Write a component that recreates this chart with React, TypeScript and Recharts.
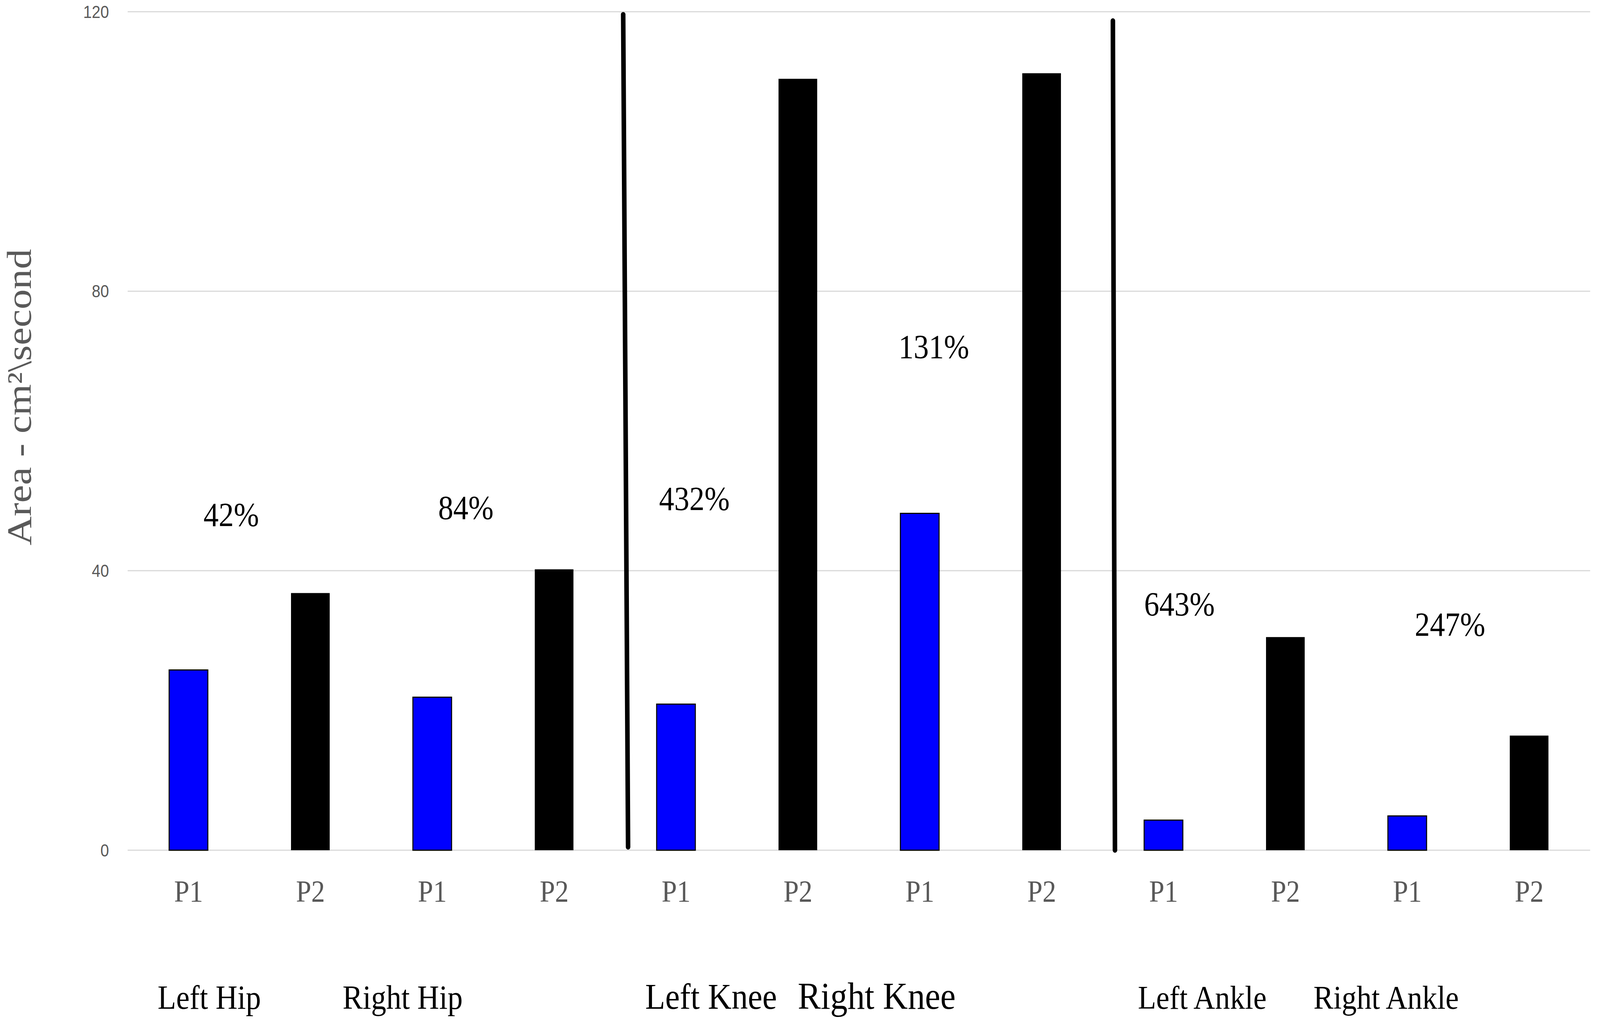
import React from "react";
import {
  BarChart, Bar, XAxis, YAxis, CartesianGrid, Cell, ReferenceLine, ReferenceDot
} from "recharts";

const joints = ["Left Hip", "Right Hip", "Left Knee", "Right Knee", "Left Ankle", "Right Ankle"];
const periods = ["P1", "P2"];
const p1Area = [25.8, 21.9, 20.9, 48.2, 4.3, 4.9];
const p2Area = [36.8, 40.2, 110.4, 111.2, 30.5, 16.4];
const yTicks = [0, 40, 80, 120];

// change P1 -> P2 for each joint, written above the pair (x in category units, 0 = first bar)
const pctLabels = ["42%", "84%", "432%", "131%", "643%", "247%"];
const pctX = [0.35, 2.275, 4.15, 6.115, 8.13, 10.35];
const pctY = [46.4, 47.4, 48.7, 70.4, 33.6, 30.7];

// joint names under the P1/P2 ticks
const groupX = [0.17, 1.756, 4.287, 5.646, 8.317, 9.826];
const GROUP_Y = -22.7;
const GROUP_SIZE = [86, 86, 93, 98, 85, 85];

// hand drawn separators hip | knee | ankle (slightly tilted)
const dividerTop = [{ x: 3.566, y: 119.6 }, { x: 7.584, y: 118.7 }];
const dividerBottom = [{ x: 3.606, y: 0.45 }, { x: 7.601, y: 0 }];

const W = 4550;
const H = 2622;
const MARGIN = { top: 30, right: 28, bottom: 245, left: 0 };
const Y_W = 363;
const BAND = (W - Y_W - MARGIN.left - MARGIN.right) / 12;

const COLORS: Record<string, string> = { P1: "#0000FF", P2: "#000000" };
const SERIF = "'Liberation Serif', 'Times New Roman', serif";

const data = joints.flatMap((j, i) =>
  periods.map((p, k) => ({
    id: `${j} ${p}`,
    period: p,
    area: k === 0 ? p1Area[i] : p2Area[i],
  }))
);

// fractional category position -> nearest category + pixel shift inside the band
const anchor = (u: number) => {
  const k = Math.min(data.length - 1, Math.max(0, Math.round(u)));
  return { id: data[k].id, dx: (u - k) * BAND };
};

const YLabel = () => (
  <text
    x={88} y={1017}
    transform="rotate(-90 88 1017)"
    textAnchor="middle"
    fontFamily={SERIF}
    fontSize={98}
    fill="#595959"
    textLength={759}
    lengthAdjust="spacingAndGlyphs"
  >
    Area - cm²\second
  </text>
);

export default function App() {
  const vw = typeof window !== "undefined" ? window.innerWidth : W;
  const vh = typeof window !== "undefined" ? window.innerHeight : H;

  return (
    <div style={{ position: "fixed", left: 0, top: 0, width: "100vw", height: "100vh", overflow: "hidden", background: "#fff" }}>
      <div style={{ width: W, height: H, transform: `scale(${vw / W}, ${vh / H})`, transformOrigin: "0 0" }}>
        <BarChart width={W} height={H} data={data} margin={MARGIN} barSize={110}>
          <CartesianGrid horizontal vertical={false} stroke="#D9D9D9" strokeWidth={3} />
          <XAxis
            dataKey="id"
            interval={0}
            height={200}
            axisLine={false}
            tickLine={false}
            tickSize={0}
            tickMargin={76}
            tickFormatter={(v: string) => v.split(" ").pop() as string}
            tick={{ fontFamily: SERIF, fontSize: 78, fill: "#595959" }}
          />
          <YAxis
            width={Y_W}
            domain={[0, 120]}
            ticks={yTicks}
            axisLine={false}
            tickLine={false}
            tickSize={0}
            tickMargin={53}
            tick={{ fontFamily: "'Liberation Sans', Arial, sans-serif", fontSize: 44, fill: "#595959" }}
            label={{ content: () => <YLabel /> }}
          />
          <Bar dataKey="area" isAnimationActive={false}>
            {data.map((d, i) => (
              <Cell
                key={i}
                fill={COLORS[d.period]}
                stroke={d.period === "P1" ? "#000" : "none"}
                strokeWidth={3}
              />
            ))}
          </Bar>
          {dividerTop.map((top, i) => {
            const a = anchor(top.x);
            const b = anchor(dividerBottom[i].x);
            return (
              <ReferenceLine
                key={"div" + i}
                segment={[{ x: a.id, y: top.y }, { x: b.id, y: dividerBottom[i].y }]}
                ifOverflow="visible"
                shape={(p: any) => (
                  <line
                    x1={p.x1 + a.dx} y1={p.y1}
                    x2={p.x2 + b.dx} y2={p.y2}
                    stroke="#000" strokeWidth={13} strokeLinecap="round"
                  />
                )}
              />
            );
          })}
          {pctLabels.map((t, i) => {
            const a = anchor(pctX[i]);
            return (
              <ReferenceDot
                key={"pct" + i}
                x={a.id}
                y={pctY[i]}
                ifOverflow="visible"
                shape={(p: any) => (
                  <text x={p.cx + a.dx} y={p.cy} textAnchor="middle" fontFamily={SERIF} fontSize={86} fill="#000">
                    {t}
                  </text>
                )}
              />
            );
          })}
          {joints.map((t, i) => {
            const a = anchor(groupX[i]);
            return (
              <ReferenceDot
                key={"grp" + i}
                x={a.id}
                y={GROUP_Y}
                ifOverflow="visible"
                shape={(p: any) => (
                  <text x={p.cx + a.dx} y={p.cy} textAnchor="middle" fontFamily={SERIF} fontSize={GROUP_SIZE[i]} fill="#000">
                    {t}
                  </text>
                )}
              />
            );
          })}
        </BarChart>
      </div>
    </div>
  );
}
